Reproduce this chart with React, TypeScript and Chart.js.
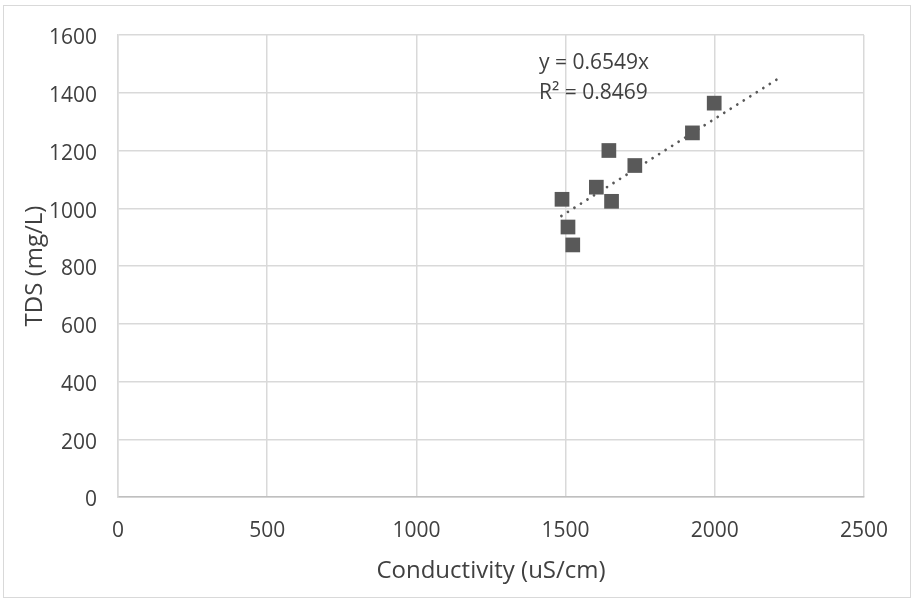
import React, { useEffect, useRef } from "react";
import { Chart, registerables } from "chart.js";

Chart.register(...registerables);

const conductivity = [1488, 1508, 1524, 1603, 1645, 1654, 1732, 1925, 1998];
const tds = [1031, 935, 873, 1073, 1200, 1024, 1148, 1261, 1364];

const trendSlope = 0.6549;
const trendR2 = 0.8469;
const trendX = [1486, 2210];

const xTicks = [0, 500, 1000, 1500, 2000, 2500];
const yTicks = [0, 200, 400, 600, 800, 1000, 1200, 1400, 1600];

const xTitle = "Conductivity (uS/cm)";
const yTitle = "TDS (mg/L)";
const eqLine1 = "y = " + trendSlope.toFixed(4) + "x";
const eqLine2 = "R² = " + trendR2.toFixed(4);
const labelAnchor = { x: 1411, y: 1504 };

const TEXT = "#404040";
const MARK = "#595959";
const GRID = "#d9d9d9";
const FONT = '"Open Sans", "Noto Sans", sans-serif';

export default function App() {
  const ref = useRef<HTMLCanvasElement | null>(null);

  useEffect(() => {
    if (!ref.current) return;
    const annotation = {
      id: "eqLabel",
      afterDatasetsDraw(chart: any) {
        const ctx = chart.ctx;
        const xs = chart.scales.x;
        const ys = chart.scales.y;
        const px = xs.getPixelForValue(labelAnchor.x);
        const py = ys.getPixelForValue(labelAnchor.y);
        ctx.save();
        ctx.font = "21px " + FONT;
        ctx.fillStyle = TEXT;
        ctx.textAlign = "left";
        ctx.textBaseline = "middle";
        ctx.fillText(eqLine1, px, py);
        ctx.fillText(eqLine2, px, py + 30);
        ctx.restore();
      },
    };
    const chart = new Chart(ref.current, {
      type: "scatter",
      data: {
        datasets: [
          {
            type: "line",
            label: "Trend",
            data: trendX.map((x) => ({ x, y: trendSlope * x })),
            borderColor: MARK,
            borderWidth: 2.75,
            borderDash: [0.01, 7.7],
            borderCapStyle: "round",
            pointRadius: 0,
            fill: false,
            order: 2,
          } as any,
          {
            label: "TDS",
            data: conductivity.map((x, i) => ({ x, y: tds[i] })),
            backgroundColor: MARK,
            borderColor: MARK,
            borderWidth: 0,
            pointStyle: "rect",
            pointRadius: 10.4,
            order: 1,
          },
        ],
      },
      options: {
        animation: false,
        responsive: false,
        maintainAspectRatio: false,
        layout: { padding: { left: 0, top: 35, right: 50, bottom: 0 } },
        plugins: {
          legend: { display: false },
          tooltip: { enabled: false },
        },
        scales: {
          x: {
            type: "linear",
            min: xTicks[0],
            max: xTicks[xTicks.length - 1],
            afterBuildTicks: (s: any) => {
              s.ticks = xTicks.map((v) => ({ value: v }));
            },
            afterFit: (s: any) => {
              s.height = 105;
            },
            grid: { color: GRID, lineWidth: 1.5, drawTicks: false },
            border: { display: true, color: "#bfbfbf", width: 1.5 },
            ticks: {
              color: TEXT,
              font: { family: FONT, size: 21 },
              padding: 21,
              maxRotation: 0,
              callback: (v: any) => String(v),
            },
            title: {
              display: true,
              text: xTitle,
              color: TEXT,
              font: { family: FONT, size: 24 },
              padding: { top: 0, bottom: 16 },
            },
          },
          y: {
            type: "linear",
            min: yTicks[0],
            max: yTicks[yTicks.length - 1],
            afterBuildTicks: (s: any) => {
              s.ticks = yTicks.map((v) => ({ value: v }));
            },
            afterFit: (s: any) => {
              s.width = 118;
            },
            grid: { color: GRID, lineWidth: 1.5, drawTicks: false },
            border: { display: true, color: GRID, width: 1.5 },
            ticks: {
              color: TEXT,
              font: { family: FONT, size: 21 },
              padding: 21,
              labelOffset: 3.5,
              callback: (v: any) => String(v),
            },
            title: {
              display: true,
              text: yTitle,
              color: TEXT,
              font: { family: FONT, size: 24 },
              padding: { top: 21, bottom: 0 },
            },
          },
        },
      },
      plugins: [annotation],
    });
    return () => chart.destroy();
  }, []);

  return (
    <div style={{ position: "fixed", left: 0, top: 0, width: 914, height: 602, background: "#fff" }}>
      <div
        style={{
          position: "absolute",
          left: 3,
          top: 5,
          width: 908,
          height: 593,
          border: "1px solid #d9d9d9",
          boxSizing: "border-box",
        }}
      />
      <canvas
        ref={ref}
        width={914}
        height={602}
        style={{ position: "absolute", left: 0, top: 0, width: 914, height: 602 }}
      />
    </div>
  );
}
